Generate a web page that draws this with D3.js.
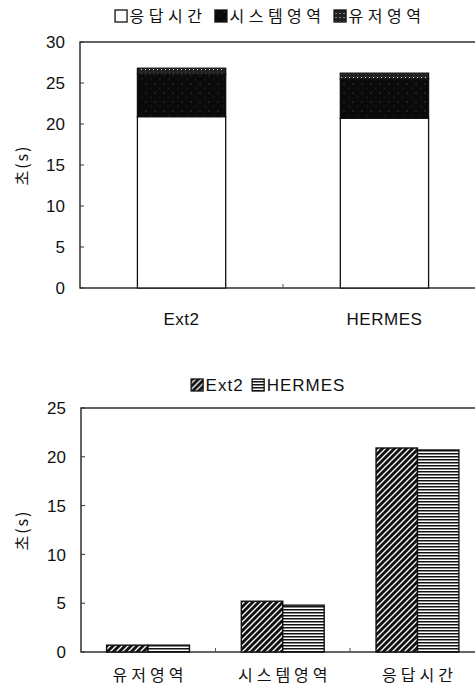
<!DOCTYPE html>
<html>
<head>
<meta charset="utf-8">
<script src="https://cdn.jsdelivr.net/npm/d3@7"></script>
<style>
  body { margin: 0; background: #fff; }
  text { font-family: "Liberation Sans", Arial, sans-serif; fill: #111; }
  .kr { font-family: "Noto Sans CJK KR", sans-serif; }
</style>
</head>
<body>
<div id="chart"></div>
<script>
// chart data
var systems = ["Ext2", "HERMES"];
var parts = ["응답시간", "시스템영역", "유저영역"];
var responseTime = [20.9, 20.7];
var systemArea = [5.2, 4.8];
var userArea = [0.7, 0.7];
var topTicks = [0, 5, 10, 15, 20, 25, 30];
var bottomCats = ["유저영역", "시스템영역", "응답시간"];
var bottomTicks = [0, 5, 10, 15, 20, 25];

var width = 475, height = 692;
var svg = d3.select("#chart").append("svg").attr("width", width).attr("height", height);

// ------------------------------------------------------------------
// fill patterns
// ------------------------------------------------------------------
var defs = svg.append("defs");

var p = defs.append("pattern").attr("id", "sysPat").attr("patternUnits", "userSpaceOnUse")
    .attr("width", 9).attr("height", 9);
p.append("rect").attr("width", 9).attr("height", 9).attr("fill", "#0a0a0a");
p.append("circle").attr("cx", 2).attr("cy", 3).attr("r", 0.5).attr("fill", "#777");
p.append("circle").attr("cx", 7).attr("cy", 7).attr("r", 0.4).attr("fill", "#666");

p = defs.append("pattern").attr("id", "userPat").attr("patternUnits", "userSpaceOnUse")
    .attr("width", 4).attr("height", 4);
p.append("rect").attr("width", 4).attr("height", 4).attr("fill", "#222");
p.append("rect").attr("x", 1).attr("y", 1).attr("width", 1).attr("height", 1).attr("fill", "#ddd");

p = defs.append("pattern").attr("id", "ext2Pat").attr("patternUnits", "userSpaceOnUse")
    .attr("width", 6).attr("height", 6);
p.append("rect").attr("width", 6).attr("height", 6).attr("fill", "#111");
p.append("path").attr("d", "M-1,7 L7,-1 M-1,1 L1,-1 M5,7 L7,5")
    .attr("stroke", "#fff").attr("stroke-width", 1.3);

p = defs.append("pattern").attr("id", "hermesPat").attr("patternUnits", "userSpaceOnUse")
    .attr("width", 4).attr("height", 3);
p.append("rect").attr("width", 4).attr("height", 3).attr("fill", "#fff");
p.append("rect").attr("width", 4).attr("height", 1.5).attr("fill", "#111");

var partFill = {"응답시간": "#fff", "시스템영역": "url(#sysPat)", "유저영역": "url(#userPat)"};
var sysFill = {"Ext2": "url(#ext2Pat)", "HERMES": "url(#hermesPat)"};

// legend helper: items drawn centred on cx
function legend(items, fills, cx, cy, size, spacing) {
    var g = svg.append("g");
    var x = 0;
    items.forEach(function(name) {
        g.append("rect").attr("x", x + 0.5).attr("y", cy - 6).attr("width", 12).attr("height", 12)
            .attr("fill", fills[name]).attr("stroke", "#111").attr("stroke-width", 1.3);
        var t = g.append("text").attr("class", /[가-힣]/.test(name) ? "kr" : null)
            .attr("x", x + 15).attr("y", cy).attr("dy", "0.36em")
            .style("font-size", size + "px").style("letter-spacing", spacing + "px").text(name);
        x += 15 + t.node().getComputedTextLength() + 8;
    });
    g.attr("transform", "translate(" + (cx - (x - 8) / 2) + ",0)");
}

// y axis helper (ticks inside, labels on the left)
function yAxis(y, ticks, left, top, bottom, right) {
    svg.append("rect").attr("x", left).attr("y", top).attr("width", right - left).attr("height", bottom - top)
        .attr("fill", "none").attr("stroke", "#111").attr("stroke-width", 1.3);
    ticks.forEach(function(v) {
        svg.append("line").attr("x1", left).attr("x2", left + 4).attr("y1", y(v)).attr("y2", y(v))
            .attr("stroke", "#333").attr("stroke-width", 1);
        svg.append("text").attr("x", left - 15).attr("y", y(v)).attr("dy", "0.36em")
            .attr("text-anchor", "end").style("font-size", "17px").text(v);
    });
    svg.append("text").attr("class", "kr")
        .attr("transform", "translate(28," + ((top + bottom) / 2) + ") rotate(-90)")
        .attr("text-anchor", "middle").style("font-size", "16px").style("letter-spacing", "2px").text("초(s)");
}

// ------------------------------------------------------------------
// top chart: stacked bars
// ------------------------------------------------------------------
var tLeft = 80, tRight = 486, tTop = 42, tBottom = 288;
var x1 = d3.scaleBand().domain(systems).range([tLeft, tRight]).paddingInner(0.565).paddingOuter(0.283);
var y1 = d3.scaleLinear().domain([0, 30]).range([tBottom, tTop]);

var rows = systems.map(function(s, i) {
    return {sys: s, "응답시간": responseTime[i], "시스템영역": systemArea[i], "유저영역": userArea[i]};
});
var stacked = d3.stack().keys(parts)(rows);

legend(parts, partFill, 270, 16, 16, 4.5);
yAxis(y1, topTicks, tLeft, tTop, tBottom, tRight);

stacked.forEach(function(layer) {
    svg.append("g").selectAll("rect").data(layer).enter().append("rect")
        .attr("x", function(d) { return x1(d.data.sys); })
        .attr("y", function(d) { return y1(d[1]); })
        .attr("width", x1.bandwidth())
        .attr("height", function(d) { return y1(d[0]) - y1(d[1]); })
        .attr("fill", partFill[layer.key])
        .attr("stroke", "#111").attr("stroke-width", 1.3);
});

// category separator tick
svg.append("line").attr("x1", (tLeft + tRight) / 2).attr("x2", (tLeft + tRight) / 2)
    .attr("y1", tBottom).attr("y2", tBottom - 4).attr("stroke", "#555");

svg.append("g").selectAll("text").data(systems).enter().append("text")
    .attr("x", function(d) { return x1(d) + x1.bandwidth() / 2; })
    .attr("y", 319).attr("dy", "0.36em").attr("text-anchor", "middle")
    .style("font-size", "17px").style("letter-spacing", "0.5px").text(function(d) { return d; });

// ------------------------------------------------------------------
// bottom chart: grouped bars
// ------------------------------------------------------------------
var bLeft = 81, bRight = 484.5, bTop = 408, bBottom = 652;
var bVals = {
    "Ext2": [userArea[0], systemArea[0], responseTime[0]],
    "HERMES": [userArea[1], systemArea[1], responseTime[1]]
};
var x2 = d3.scaleBand().domain(bottomCats).range([bLeft, bRight]).paddingInner(0.385).paddingOuter(0.19);
var xs = d3.scaleBand().domain(systems).range([0, x2.bandwidth()]);
var y2 = d3.scaleLinear().domain([0, 25]).range([bBottom, bTop]);

legend(systems, sysFill, 268, 385, 17, 1);
yAxis(y2, bottomTicks, bLeft, bTop, bBottom, bRight);

systems.forEach(function(s) {
    svg.append("g").selectAll("rect").data(bVals[s]).enter().append("rect")
        .attr("x", function(d, i) { return x2(bottomCats[i]) + xs(s); })
        .attr("y", function(d) { return y2(d); })
        .attr("width", xs.bandwidth())
        .attr("height", function(d) { return bBottom - y2(d); })
        .attr("fill", sysFill[s])
        .attr("stroke", "#111").attr("stroke-width", 1.4);
});

var step = (bRight - bLeft) / bottomCats.length;
[1, 2].forEach(function(k) {
    svg.append("line").attr("x1", bLeft + k * step).attr("x2", bLeft + k * step)
        .attr("y1", bBottom).attr("y2", bBottom - 4).attr("stroke", "#555");
});

svg.append("g").selectAll("text").data(bottomCats).enter().append("text")
    .attr("class", "kr")
    .attr("x", function(d) { return x2(d) + x2.bandwidth() / 2 + 2; })
    .attr("y", 675).attr("dy", "0.36em").attr("text-anchor", "middle")
    .style("font-size", "16px").style("letter-spacing", "4px").text(function(d) { return d; });
</script>
</body>
</html>
